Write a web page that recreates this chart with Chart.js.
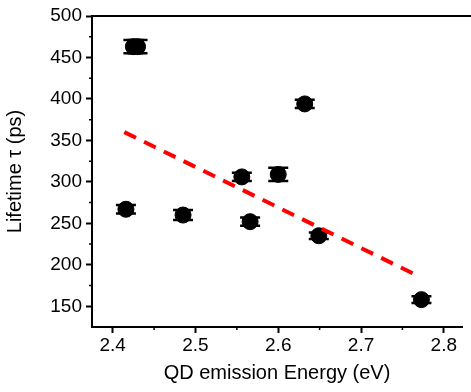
<!DOCTYPE html>
<html lang="en">
<head>
    <meta charset="UTF-8">
    <title>Lifetime vs QD emission energy</title>
    <script src="https://cdn.jsdelivr.net/npm/chart.js"></script>
    <style>
        html, body { margin: 0; padding: 0; background: #fff; }
        #wrap { width: 471px; height: 392px; }
    </style>
</head>
<body>
    <div id="wrap"><canvas id="myChart"></canvas></div>

    <script>
        // measured points (energy in eV, lifetime in ps, error in ps)
        const energy   = [2.425, 2.430, 2.416, 2.485, 2.556, 2.566, 2.600, 2.632, 2.649, 2.773];
        const lifetime = [463,   463,   267,   260,   306,   252,   309,   394,   235,   158];
        const errors   = [8,     8,     5,     6,     5,     5,     8,     5,     4,     4];

        // linear fit, end points
        const fitX = [2.414, 2.766];
        const fitY = [360, 188];

        const xMajor = [2.4, 2.5, 2.6, 2.7, 2.8];
        const xMinor = [2.45, 2.55, 2.65, 2.75];
        const yMajor = [150, 200, 250, 300, 350, 400, 450, 500];
        const yMinor = [175, 225, 275, 325, 375, 425, 475];

        const fontFamily = '"Liberation Sans", Arial, sans-serif';

        // error bars, minor ticks and the top frame line
        const extras = {
            id: 'extras',
            beforeDatasetsDraw(chart) {
                const ctx = chart.ctx;
                const xs = chart.scales.x, ys = chart.scales.y;
                ctx.save();
                ctx.strokeStyle = '#000';
                ctx.lineWidth = 2.5;
                for (let i = 0; i < energy.length; i++) {
                    const px = xs.getPixelForValue(energy[i]);
                    const top = ys.getPixelForValue(lifetime[i] + errors[i]);
                    const bot = ys.getPixelForValue(lifetime[i] - errors[i]);
                    ctx.beginPath();
                    ctx.moveTo(px, top); ctx.lineTo(px, bot);
                    ctx.moveTo(px - 10, top); ctx.lineTo(px + 10, top);
                    ctx.moveTo(px - 10, bot); ctx.lineTo(px + 10, bot);
                    ctx.stroke();
                }
                ctx.restore();
            },
            afterDraw(chart) {
                const ctx = chart.ctx;
                const a = chart.chartArea;
                const xs = chart.scales.x, ys = chart.scales.y;
                ctx.save();
                ctx.strokeStyle = '#000';
                ctx.lineWidth = 1.5;
                ctx.beginPath();
                xMinor.forEach(v => {
                    const p = xs.getPixelForValue(v);
                    ctx.moveTo(p, a.bottom); ctx.lineTo(p, a.bottom + 3);
                });
                yMinor.forEach(v => {
                    const p = ys.getPixelForValue(v);
                    ctx.moveTo(a.left, p); ctx.lineTo(a.left - 3, p);
                });
                ctx.stroke();
                ctx.lineWidth = 2;
                ctx.beginPath();
                ctx.moveTo(a.left, a.top); ctx.lineTo(chart.width, a.top);
                ctx.stroke();
                ctx.restore();
            }
        };

        const ctx = document.getElementById('myChart').getContext('2d');
        new Chart(ctx, {
            type: 'scatter',
            data: {
                datasets: [{
                    label: 'Lifetime',
                    data: energy.map((e, i) => ({ x: e, y: lifetime[i] })),
                    backgroundColor: '#000',
                    borderColor: '#000',
                    pointRadius: 8,
                    pointHoverRadius: 8,
                    order: 1
                }, {
                    type: 'line',
                    label: 'Fit',
                    data: fitX.map((e, i) => ({ x: e, y: fitY[i] })),
                    borderColor: '#ff0000',
                    borderWidth: 4,
                    borderDash: [13, 9],
                    pointRadius: 0,
                    fill: false,
                    order: 0
                }]
            },
            options: {
                responsive: true,
                maintainAspectRatio: false,
                animation: false,
                layout: { padding: { top: 16, right: 0, left: 0, bottom: 0 } },
                plugins: { legend: { display: false }, tooltip: { enabled: false } },
                scales: {
                    x: {
                        type: 'linear',
                        min: 2.375,
                        max: 2.822,
                        afterFit: s => { s.height = 65; },
                        afterBuildTicks: s => { s.ticks = xMajor.map(v => ({ value: v })); },
                        ticks: {
                            color: '#000',
                            padding: 1,
                            font: { family: fontFamily, size: 19 },
                            callback: v => v.toFixed(1)
                        },
                        grid: { drawOnChartArea: false, tickLength: 6, tickWidth: 2, tickColor: '#000' },
                        border: { color: '#000', width: 2 },
                        title: {
                            display: true,
                            text: 'QD emission Energy (eV)',
                            color: '#000',
                            font: { family: fontFamily, size: 20 },
                            padding: { top: 0, bottom: 7 }
                        }
                    },
                    y: {
                        min: 125,
                        max: 500,
                        afterFit: s => { s.width = 92; },
                        afterBuildTicks: s => { s.ticks = yMajor.map(v => ({ value: v })); },
                        ticks: {
                            color: '#000',
                            padding: 4,
                            font: { family: fontFamily, size: 19 }
                        },
                        grid: { drawOnChartArea: false, tickLength: 6, tickWidth: 2, tickColor: '#000' },
                        border: { color: '#000', width: 2 },
                        title: {
                            display: true,
                            text: 'Lifetime τ (ps)',
                            color: '#000',
                            font: { family: fontFamily, size: 20 },
                            padding: { top: 3, bottom: 0 }
                        }
                    }
                }
            },
            plugins: [extras]
        });
    </script>
</body>
</html>
